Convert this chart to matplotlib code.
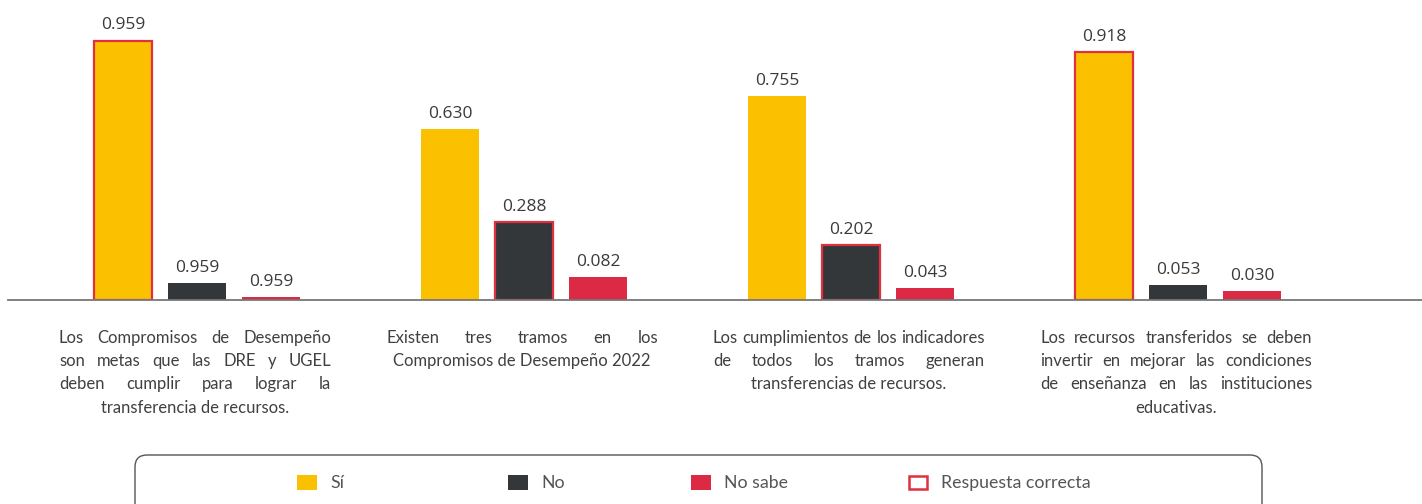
import matplotlib
matplotlib.use('Agg')
from matplotlib import pyplot as plt
from matplotlib.patches import FancyBboxPatch, Rectangle
import numpy as np

# datos
categorias = [
    ['Los Compromisos de Desempeño', 'son metas que las DRE y UGEL',
     'deben cumplir para lograr la', 'transferencia de recursos.'],
    ['Existen tres tramos en los', 'Compromisos de Desempeño 2022'],
    ['Los cumplimientos de los indicadores', 'de todos los tramos generan',
     'transferencias de recursos.'],
    ['Los recursos transferidos se deben', 'invertir en mejorar las condiciones',
     'de enseñanza en las instituciones', 'educativas.'],
]
series = ['Sí', 'No', 'No sabe']
si = [0.959, 0.630, 0.755, 0.918]
no = [0.062, 0.288, 0.202, 0.053]
no_sabe = [0.010, 0.082, 0.043, 0.030]
etiq_si = ['0.959', '0.630', '0.755', '0.918']
etiq_no = ['0.959', '0.288', '0.202', '0.053']
etiq_ns = ['0.959', '0.082', '0.043', '0.030']
correcta = ['Sí', 'No', 'No', 'Sí']

colores = {'Sí': '#FBC100', 'No': '#333739', 'No sabe': '#DC2A45'}
borde_ok = '#E0303F'
gris_txt = '#404040'

W, H = 1422, 504
fig = plt.figure(figsize=(W / 100, H / 100), dpi=100)
ax = fig.add_axes([8 / W, (H - 299.5) / H, 1 - 8 / W, 270 / H])

x = np.arange(len(categorias))
desp = 74 / 327
ancho = 58 / 327
valores = [si, no, no_sabe]
etiquetas = [etiq_si, etiq_no, etiq_ns]
for j, s in enumerate(series):
    xs = x + (j - 1) * desp
    ec = [borde_ok if correcta[i] == s else 'none' for i in range(len(x))]
    barras = ax.bar(xs, valores[j], width=ancho, color=colores[s],
                    edgecolor=ec, linewidth=1.6)
    for b, t in zip(barras, etiquetas[j]):
        ax.annotate(t, (b.get_x() + b.get_width() / 2, b.get_height()),
                    xytext=(0, 8), textcoords='offset points',
                    ha='center', va='baseline', fontsize=12.5,
                    family='Open Sans', color='#3a3a3a', annotation_clip=False)

ax.set_xlim(-189 / 327, 1225 / 327)
ax.set_ylim(0, 1)
for sp in ['top', 'right', 'left']:
    ax.spines[sp].set_visible(False)
ax.spines['bottom'].set_color('#777777')
ax.spines['bottom'].set_linewidth(1.3)
ax.set_xticks([])
ax.set_yticks([])

# capa en pixeles para textos de categoria y leyenda
lax = fig.add_axes([0, 0, 1, 1], zorder=-1)
lax.set_xlim(0, W)
lax.set_ylim(H, 0)
lax.axis('off')

fig.canvas.draw()
renderer = fig.canvas.get_renderer()
kw = dict(fontsize=12, family='Lato', color=gris_txt)
ancho_txt = 272
for i, lineas in enumerate(categorias):
    xc = ax.transData.transform((x[i], 0))[0] - 2
    for k, linea in enumerate(lineas):
        yb = 343 + k * 23.2
        palabras = linea.split()
        if k == len(lineas) - 1 or len(palabras) == 1:
            lax.text(xc, yb, linea, ha='center', va='baseline', **kw)
            continue
        objs = [lax.text(0, yb, p, ha='left', va='baseline', **kw) for p in palabras]
        anchos = [t.get_window_extent(renderer).width for t in objs]
        hueco = max((ancho_txt - sum(anchos)) / (len(palabras) - 1), 3)
        total = sum(anchos) + hueco * (len(palabras) - 1)
        xp = xc - total / 2
        for t, a in zip(objs, anchos):
            t.set_x(xp)
            xp += a + hueco

# leyenda
lax.add_patch(FancyBboxPatch((135, 455), 1127, 80,
                             boxstyle='round,pad=0,rounding_size=12',
                             fc='none', ec='#555555', lw=1.0))
ley_x = [297, 508, 691, 908]
ley_txt = series + ['Respuesta correcta']
for xl, t in zip(ley_x, ley_txt):
    if t in colores:
        lax.add_patch(Rectangle((xl, 475), 20, 15, fc=colores[t], ec='none'))
    else:
        lax.add_patch(Rectangle((xl + 1, 476), 18, 13, fc='white', ec=borde_ok, lw=1.8))
    lax.text(xl + 33, 483, t, ha='left', va='center', fontsize=12.8,
             family='Lato', color='#555555')

fig.savefig('out.png', dpi=100)
